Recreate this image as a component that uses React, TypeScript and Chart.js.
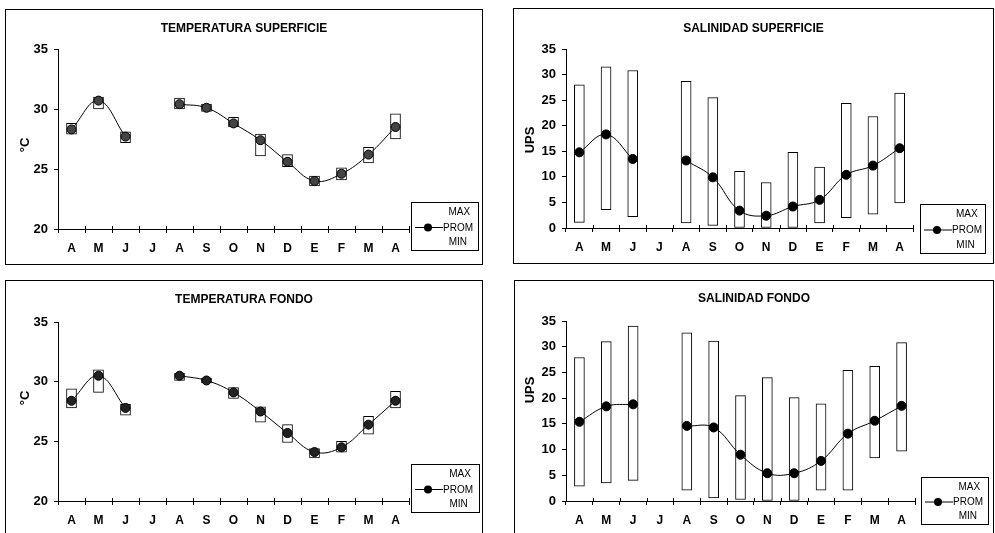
import React, { useEffect, useRef } from 'react';
import { Chart, registerables } from 'chart.js';

Chart.register(...registerables);

const months = ['A', 'M', 'J', 'J', 'A', 'S', 'O', 'N', 'D', 'E', 'F', 'M', 'A'];

const tempTicks = [20, 25, 30, 35];
const salTicks = [0, 5, 10, 15, 20, 25, 30, 35];

const tempSupProm = [28.3, 30.7, 27.7, null, 30.4, 30.1, 28.8, 27.4, 25.6, 24.0, 24.6, 26.2, 28.5];
const tempSupMax = [28.8, 31.0, 28.1, null, 30.9, 30.4, 29.3, 27.9, 26.2, 24.4, 25.1, 26.8, 29.6];
const tempSupMin = [27.9, 30.0, 27.2, null, 30.0, 29.8, 28.5, 26.1, 25.2, 23.6, 24.1, 25.5, 27.5];

const salSupProm = [14.8, 18.3, 13.5, null, 13.2, 9.9, 3.4, 2.4, 4.2, 5.5, 10.4, 12.2, 15.6];
const salSupMax = [28.0, 31.5, 30.8, null, 28.7, 25.5, 11.1, 8.9, 14.8, 11.9, 24.4, 21.8, 26.4];
const salSupMin = [1.1, 3.6, 2.2, null, 1.0, 0.5, 0, 0, 0.1, 1.0, 2.0, 2.7, 4.9];

const tempFonProm = [28.4, 30.5, 27.8, null, 30.5, 30.1, 29.1, 27.5, 25.7, 24.1, 24.5, 26.4, 28.4];
const tempFonMax = [29.4, 31.0, 28.1, null, 30.7, 30.3, 29.5, 27.9, 26.4, 24.4, 25.0, 27.1, 29.2];
const tempFonMin = [27.8, 29.1, 27.2, null, 30.1, 29.9, 28.6, 26.6, 24.9, 23.6, 24.1, 25.6, 27.8];

const salFonProm = [15.4, 18.4, 18.8, null, 14.6, 14.3, 9.0, 5.4, 5.4, 7.8, 13.1, 15.6, 18.5];
const salFonMax = [27.9, 31.0, 34.0, null, 32.7, 31.1, 20.5, 24.0, 20.1, 18.9, 25.4, 26.2, 30.8];
const salFonMin = [2.9, 3.5, 4.0, null, 2.1, 0.6, 0.3, 0.1, 0, 2.1, 2.1, 8.4, 9.7];

const FONT = '"Liberation Sans", Arial, Helvetica, sans-serif';

const decorPlugin = {
  id: 'decor',
  afterDraw(chart: any, _args: any, o: any) {
    const ctx = chart.ctx;
    const W = chart.width;
    ctx.save();
    ctx.fillStyle = '#000';
    ctx.strokeStyle = '#000';
    // title
    ctx.font = `bold 12px ${FONT}`;
    ctx.textAlign = 'center';
    ctx.textBaseline = 'middle';
    ctx.fillText(o.title, W / 2, o.titleY);
    // y label
    ctx.save();
    ctx.translate(o.yLabelX, o.yLabelY);
    ctx.rotate(-Math.PI / 2);
    ctx.font = `bold 13px ${FONT}`;
    ctx.fillText(o.yLabel, 0, 0);
    ctx.restore();
    // x-axis tick marks crossing above the axis line
    const xs = chart.scales.x;
    const n = chart.data.labels.length;
    const step = (xs.right - xs.left) / n;
    ctx.lineWidth = 1;
    ctx.beginPath();
    for (let i = 1; i <= n; i++) {
      const x = Math.round(xs.left + i * step) + 0.5;
      ctx.moveTo(x, xs.top - 3);
      ctx.lineTo(x, xs.top);
    }
    ctx.stroke();
    // legend
    const lx = o.legend.x, ly = o.legend.y, lw = o.legend.w, lh = o.legend.h;
    ctx.lineWidth = 1;
    ctx.strokeRect(lx + 0.5, ly + 0.5, lw, lh);
    ctx.font = `10px ${FONT}`;
    ctx.textAlign = 'center';
    ctx.fillText('MAX', lx + lw * 0.72, ly + 10);
    ctx.fillText('MIN', lx + lw * 0.70, ly + lh - 8);
    const py = ly + lh / 2 + 1;
    ctx.beginPath();
    ctx.moveTo(lx + 4, py + 0.5);
    ctx.lineTo(lx + 32, py + 0.5);
    ctx.stroke();
    ctx.beginPath();
    ctx.arc(lx + 17, py + 0.5, 4, 0, Math.PI * 2);
    ctx.fillStyle = '#000';
    ctx.fill();
    ctx.textAlign = 'left';
    ctx.fillText('PROM', lx + 32, py + 1);
    ctx.restore();
  },
};

type PanelProps = {
  left: number; top: number; width: number; height: number;
  area: { left: number; top: number; right: number; bottom: number };
  title: string; titleY: number;
  yLabel: string; yLabelX: number; yLabelY: number;
  legend: { x: number; y: number; w: number; h: number };
  prom: (number | null)[]; max: (number | null)[]; min: (number | null)[];
  ticks: number[];
  pointFill: string;
};

function Panel(p: PanelProps) {
  const ref = useRef<HTMLCanvasElement>(null);
  useEffect(() => {
    const cw = p.width - 2;
    const ch = p.height - 2;
    const canvas = ref.current!;
    const bars = months.map((_, i) =>
      p.max[i] == null || p.min[i] == null ? null : [p.min[i], p.max[i]]
    );
    const chart = new Chart(canvas, {
      type: 'bar',
      data: {
        labels: months,
        datasets: [
          {
            type: 'line',
            label: 'PROM',
            data: p.prom as any,
            borderColor: '#000',
            borderWidth: 1,
            backgroundColor: p.pointFill,
            pointBackgroundColor: p.pointFill,
            pointBorderColor: '#000',
            pointBorderWidth: 1,
            pointRadius: 4.5,
            tension: 0.4,
            spanGaps: false,
            order: 0,
          } as any,
          {
            type: 'bar',
            label: 'MAX-MIN',
            data: bars as any,
            backgroundColor: '#fff',
            borderColor: '#000',
            borderWidth: 1,
            borderSkipped: false,
            barThickness: 10,
            order: 1,
          } as any,
        ],
      },
      options: {
        responsive: false,
        animation: false,
        events: [],
        layout: {
          padding: { left: 0, top: p.area.top, right: cw - p.area.right, bottom: 0 },
        },
        plugins: {
          legend: { display: false },
          tooltip: { enabled: false },
          title: { display: false },
          decor: {
            title: p.title, titleY: p.titleY,
            yLabel: p.yLabel, yLabelX: p.yLabelX, yLabelY: p.yLabelY,
            legend: p.legend,
          },
        } as any,
        scales: {
          x: {
            afterFit: (s: any) => { s.height = ch - p.area.bottom; },
            offset: true,
            grid: {
              display: true,
              drawOnChartArea: false,
              drawTicks: true,
              tickLength: 4,
              color: '#000',
              offset: true,
            },
            border: { display: true, color: '#000', width: 1 },
            ticks: {
              color: '#000',
              font: { family: FONT, size: 12, weight: 'bold' },
              padding: 8,
              maxRotation: 0,
              autoSkip: false,
            },
          },
          y: {
            afterFit: (s: any) => { s.width = p.area.left; },
            min: p.ticks[0],
            max: p.ticks[p.ticks.length - 1],
            afterBuildTicks: (s: any) => { s.ticks = p.ticks.map((v) => ({ value: v })); },
            grid: {
              display: true,
              drawOnChartArea: false,
              drawTicks: true,
              tickLength: 4,
              color: '#000',
            },
            border: { display: true, color: '#000', width: 1 },
            ticks: {
              color: '#000',
              font: { family: FONT, size: 13, weight: 'bold' },
              padding: 6,
            },
          },
        },
      } as any,
      plugins: [decorPlugin],
    });
    return () => chart.destroy();
  }, []);
  return (
    <div
      style={{
        position: 'absolute',
        left: p.left,
        top: p.top,
        width: p.width,
        height: p.height,
        border: '1px solid #000',
        boxSizing: 'border-box',
        background: '#fff',
      }}
    >
      <canvas ref={ref} width={p.width - 2} height={p.height - 2} style={{ display: 'block' }} />
    </div>
  );
}

export default function App() {
  return (
    <div
      style={{
        position: 'absolute',
        left: 0,
        top: 0,
        width: 995,
        height: 533,
        overflow: 'hidden',
        background: '#fff',
      }}
    >
      <Panel
        left={5} top={9} width={478} height={256}
        area={{ left: 52, top: 39, right: 403, bottom: 219 }}
        title="TEMPERATURA SUPERFICIE" titleY={19}
        yLabel="°C" yLabelX={19} yLabelY={135}
        legend={{ x: 405, y: 192, w: 67, h: 48 }}
        prom={tempSupProm} max={tempSupMax} min={tempSupMin}
        ticks={tempTicks} pointFill="#444"
      />
      <Panel
        left={513} top={8} width={481} height={256}
        area={{ left: 52, top: 40, right: 399, bottom: 219 }}
        title="SALINIDAD SUPERFICIE" titleY={20}
        yLabel="UPS" yLabelX={16} yLabelY={131}
        legend={{ x: 406, y: 195, w: 65, h: 49 }}
        prom={salSupProm} max={salSupMax} min={salSupMin}
        ticks={salTicks} pointFill="#000"
      />
      <Panel
        left={5} top={280} width={478} height={270}
        area={{ left: 52, top: 41, right: 403, bottom: 220 }}
        title="TEMPERATURA FONDO" titleY={19}
        yLabel="°C" yLabelX={19} yLabelY={117}
        legend={{ x: 405, y: 183, w: 68, h: 48 }}
        prom={tempFonProm} max={tempFonMax} min={tempFonMin}
        ticks={tempTicks} pointFill="#222"
      />
      <Panel
        left={514} top={280} width={480} height={270}
        area={{ left: 51, top: 40, right: 400, bottom: 220 }}
        title="SALINIDAD FONDO" titleY={18}
        yLabel="UPS" yLabelX={15} yLabelY={109}
        legend={{ x: 406, y: 196, w: 67, h: 47 }}
        prom={salFonProm} max={salFonMax} min={salFonMin}
        ticks={salTicks} pointFill="#000"
      />
    </div>
  );
}
